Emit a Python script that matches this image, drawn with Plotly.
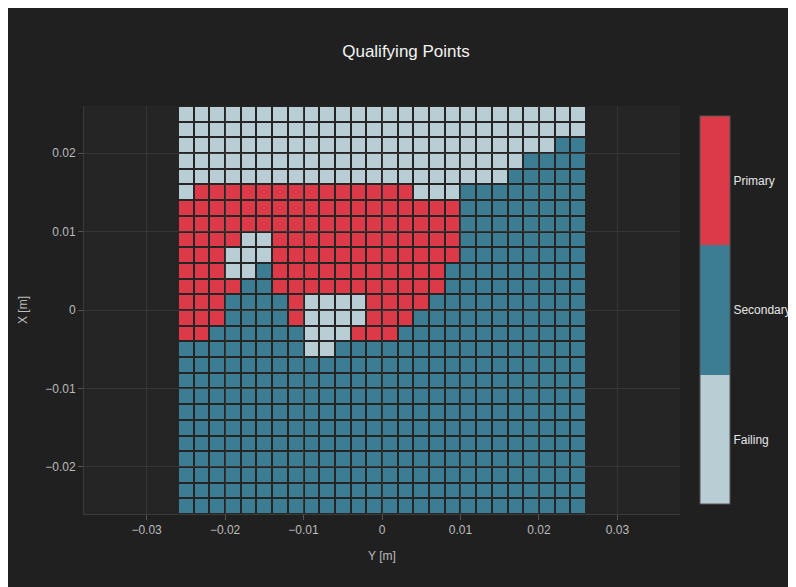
import plotly.graph_objects as go

# Cell centres (m)
x_centers = [round(-0.025 + 0.002 * i, 3) for i in range(26)]
y_centers = [round(0.025 - 0.002 * j, 3) for j in range(26)]

# Category codes: 0 = Failing, 1 = Secondary, 2 = Primary (rows top -> bottom)
F, S, P = 0, 1, 2
z_rows = [
    [F]*26,
    [F]*26,
    [F]*24 + [S]*2,
    [F]*22 + [S]*4,
    [F]*21 + [S]*5,
    [F] + [P]*14 + [F]*3 + [S]*8,
    [P]*18 + [S]*8,
    [P]*18 + [S]*8,
    [P]*4 + [F]*2 + [P]*12 + [S]*8,
    [P]*3 + [F]*3 + [P]*12 + [S]*8,
    [P]*3 + [F]*2 + [S] + [P]*11 + [S]*9,
    [P]*4 + [S]*2 + [P]*11 + [S]*9,
    [P]*3 + [S]*4 + [P] + [F]*4 + [P]*4 + [S]*10,
    [P]*3 + [S]*4 + [P] + [F]*4 + [P]*3 + [S]*11,
    [P]*2 + [S]*6 + [F]*3 + [P]*3 + [S]*12,
    [S]*8 + [F]*2 + [S]*16,
] + [[S]*26 for _ in range(10)]

category_labels = ["Failing", "Secondary", "Primary"]
category_values = [0, 1, 2]
category_colors = ["#B8CDD4", "#3C7D93", "#DC3A48"]

colorscale = [
    [0.0, category_colors[0]], [1/3, category_colors[0]],
    [1/3, category_colors[1]], [2/3, category_colors[1]],
    [2/3, category_colors[2]], [1.0, category_colors[2]],
]

fig = go.Figure(go.Heatmap(
    x=x_centers, y=y_centers, z=z_rows,
    zmin=-0.5, zmax=2.5, colorscale=colorscale,
    xgap=2, ygap=2,
    colorbar=dict(
        x=1.017,
        tickvals=category_values, ticktext=category_labels,
        ticks="", outlinecolor="#555", outlinewidth=1,
        tickfont=dict(color="#e6e6e6", size=12),
    ),
))

axis_common = dict(
    showgrid=True, gridcolor="#363636", zeroline=False,
    showline=True, linecolor="#3a3a3a", ticks="outside",
    tickcolor="#555", ticklen=5,
    tickfont=dict(color="#bbbbbb", size=12),
    title_font=dict(color="#bbbbbb", size=12),
)

fig.update_layout(
    width=796, height=587,
    margin=dict(l=76, r=124, t=98, b=81, autoexpand=False),
    paper_bgcolor="#202020", plot_bgcolor="#252525",
    font=dict(family="Arial", color="#cccccc"),
    title=dict(text="Qualifying Points", x=0.5, xanchor="center",
               font=dict(size=17, color="#f2f2f2")),
    xaxis=dict(title=dict(text="Y [m]"), dtick=0.01, **axis_common),
    yaxis=dict(title=dict(text="X [m]"), dtick=0.01, scaleanchor="x", scaleratio=1,
               **axis_common),
)

fig.write_html("out.html")
